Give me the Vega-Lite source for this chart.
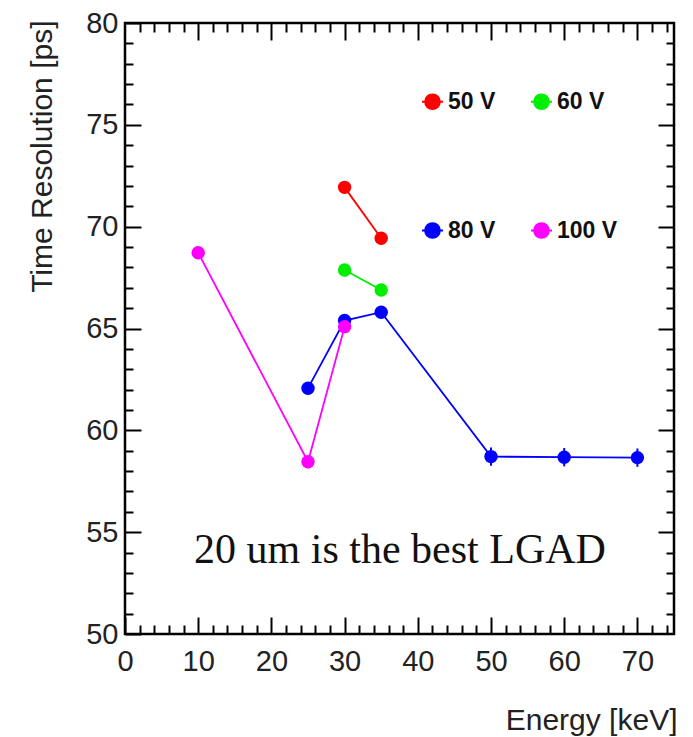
{
  "$schema": "https://vega.github.io/schema/vega-lite/v6.json",
  "autosize": {"type": "none"},
  "width": 549,
  "height": 611,
  "padding": {"left": 125, "top": 23, "right": 19, "bottom": 103},
  "background": "white",
  "config": {
    "view": {"stroke": "#000", "strokeWidth": 2.5},
    "font": "Liberation Sans"
  },
  "data": {
    "values": [
      {"series": "50 V", "energy": 30, "res": 71.93, "err": 0.3},
      {"series": "50 V", "energy": 35, "res": 69.43, "err": 0.3},
      {"series": "60 V", "energy": 30, "res": 67.87, "err": 0.3},
      {"series": "60 V", "energy": 35, "res": 66.89, "err": 0.3},
      {"series": "80 V", "energy": 25, "res": 62.07, "err": 0.3},
      {"series": "80 V", "energy": 30, "res": 65.39, "err": 0.3},
      {"series": "80 V", "energy": 35, "res": 65.8, "err": 0.3},
      {"series": "80 V", "energy": 50, "res": 58.71, "err": 0.45},
      {"series": "80 V", "energy": 60, "res": 58.68, "err": 0.45},
      {"series": "80 V", "energy": 70, "res": 58.66, "err": 0.45},
      {"series": "100 V", "energy": 10, "res": 68.72, "err": 0.3},
      {"series": "100 V", "energy": 25, "res": 58.46, "err": 0.3},
      {"series": "100 V", "energy": 30, "res": 65.09, "err": 0.3}
    ]
  },
  "transform": [
    {"calculate": "datum.res - datum.err", "as": "lo"},
    {"calculate": "datum.res + datum.err", "as": "hi"}
  ],
  "resolve": {"axis": {"x": "independent", "y": "independent"}},
  "layer": [
    {
      "mark": {"type": "rule", "strokeWidth": 2},
      "encoding": {
        "x": {
          "field": "energy", "type": "quantitative",
          "scale": {"domain": [0, 75], "nice": false, "zero": false},
          "axis": {
            "orient": "bottom",
            "values": [0, 10, 20, 30, 40, 50, 60, 70],
            "tickSize": -17, "tickWidth": 2, "tickColor": "#000",
            "domain": false, "grid": false,
            "labelFont": "Liberation Sans", "labelFontSize": 29, "labelColor": "#222",
            "labelPadding": 30, "labelFlush": false,
            "title": "Energy [keV]",
            "titleFont": "Liberation Sans", "titleFontSize": 30, "titleFontWeight": "normal",
            "titleColor": "#222", "titleAnchor": "end", "titleAlign": "right",
            "titleX": 552, "titleY": 95, "titleBaseline": "alphabetic"
          }
        },
        "y": {
          "field": "lo", "type": "quantitative",
          "scale": {"domain": [50, 80], "nice": false, "zero": false},
          "axis": {
            "orient": "left",
            "values": [50, 55, 60, 65, 70, 75, 80],
            "tickSize": -16, "tickWidth": 2, "tickColor": "#000",
            "domain": false, "grid": false,
            "labelFont": "Liberation Sans", "labelFontSize": 29, "labelColor": "#222",
            "labelPadding": 23, "labelFlush": false,
            "title": "Time Resolution [ps]",
            "titleFont": "Liberation Sans", "titleFontSize": 30, "titleFontWeight": "normal",
            "titleColor": "#222", "titleAnchor": "end", "titleAlign": "right",
            "titleAngle": -90, "titleX": -83, "titleY": -3, "titleBaseline": "middle"
          }
        },
        "y2": {"field": "hi"},
        "color": {
          "field": "series", "type": "nominal",
          "scale": {"domain": ["50 V", "60 V", "80 V", "100 V"], "range": ["#ff0000", "#00ee00", "#0000ff", "#ff00ff"]},
          "legend": {
            "orient": "none", "legendX": 296, "legendY": 67,
            "direction": "horizontal",
            "columns": 2, "title": null, "padding": 0,
            "symbolType": "M -1 0 L 1 0 M -0.7 0 A 0.7 0.7 0 1 0 0.7 0 A 0.7 0.7 0 1 0 -0.7 0 Z",
            "symbolSize": 441, "symbolStrokeWidth": 2, "symbolOpacity": 1,
            "labelFont": "Liberation Sans", "labelFontSize": 23, "labelFontWeight": "bold",
            "labelColor": "#111", "labelOffset": 4,
            "rowPadding": 105, "columnPadding": 31
          }
        }
      }
    },
    {
      "mark": {"type": "line", "strokeWidth": 1.8},
      "encoding": {
        "x": {
          "field": "energy", "type": "quantitative",
          "axis": {
            "orient": "bottom",
            "values": [2, 4, 6, 8, 12, 14, 16, 18, 22, 24, 26, 28, 32, 34, 36, 38, 42, 44, 46, 48, 52, 54, 56, 58, 62, 64, 66, 68, 72, 74],
            "tickSize": -9, "tickWidth": 2, "tickColor": "#000",
            "domain": false, "grid": false, "labels": false, "title": null
          }
        },
        "y": {
          "field": "res", "type": "quantitative",
          "axis": {
            "orient": "left",
            "values": [51, 52, 53, 54, 56, 57, 58, 59, 61, 62, 63, 64, 66, 67, 68, 69, 71, 72, 73, 74, 76, 77, 78, 79],
            "tickSize": -8, "tickWidth": 2, "tickColor": "#000",
            "domain": false, "grid": false, "labels": false, "title": null
          }
        },
        "color": {"field": "series", "type": "nominal"}
      }
    },
    {
      "mark": {"type": "point", "filled": true, "opacity": 1, "size": 180, "shape": "circle"},
      "encoding": {
        "x": {
          "field": "energy", "type": "quantitative",
          "axis": {
            "orient": "top",
            "values": [10, 20, 30, 40, 50, 60, 70],
            "tickSize": -17, "tickWidth": 2, "tickColor": "#000",
            "domain": false, "grid": false, "labels": false, "title": null
          }
        },
        "y": {
          "field": "res", "type": "quantitative",
          "axis": {
            "orient": "right",
            "values": [55, 60, 65, 70, 75],
            "tickSize": -16, "tickWidth": 2, "tickColor": "#000",
            "domain": false, "grid": false, "labels": false, "title": null
          }
        },
        "color": {"field": "series", "type": "nominal"}
      }
    },
    {
      "data": {"values": [{"energy": 37.57, "res": 53.49, "note": "20 um is the best LGAD"}]},
      "mark": {"type": "text", "font": "Liberation Serif", "fontSize": 42, "align": "center", "baseline": "alphabetic", "color": "#111"},
      "encoding": {
        "x": {
          "field": "energy", "type": "quantitative",
          "axis": {
            "orient": "top",
            "values": [2, 4, 6, 8, 12, 14, 16, 18, 22, 24, 26, 28, 32, 34, 36, 38, 42, 44, 46, 48, 52, 54, 56, 58, 62, 64, 66, 68, 72, 74],
            "tickSize": -9, "tickWidth": 2, "tickColor": "#000",
            "domain": false, "grid": false, "labels": false, "title": null
          }
        },
        "y": {
          "field": "res", "type": "quantitative",
          "axis": {
            "orient": "right",
            "values": [51, 52, 53, 54, 56, 57, 58, 59, 61, 62, 63, 64, 66, 67, 68, 69, 71, 72, 73, 74, 76, 77, 78, 79],
            "tickSize": -8, "tickWidth": 2, "tickColor": "#000",
            "domain": false, "grid": false, "labels": false, "title": null
          }
        },
        "text": {"field": "note"}
      }
    }
  ]
}
